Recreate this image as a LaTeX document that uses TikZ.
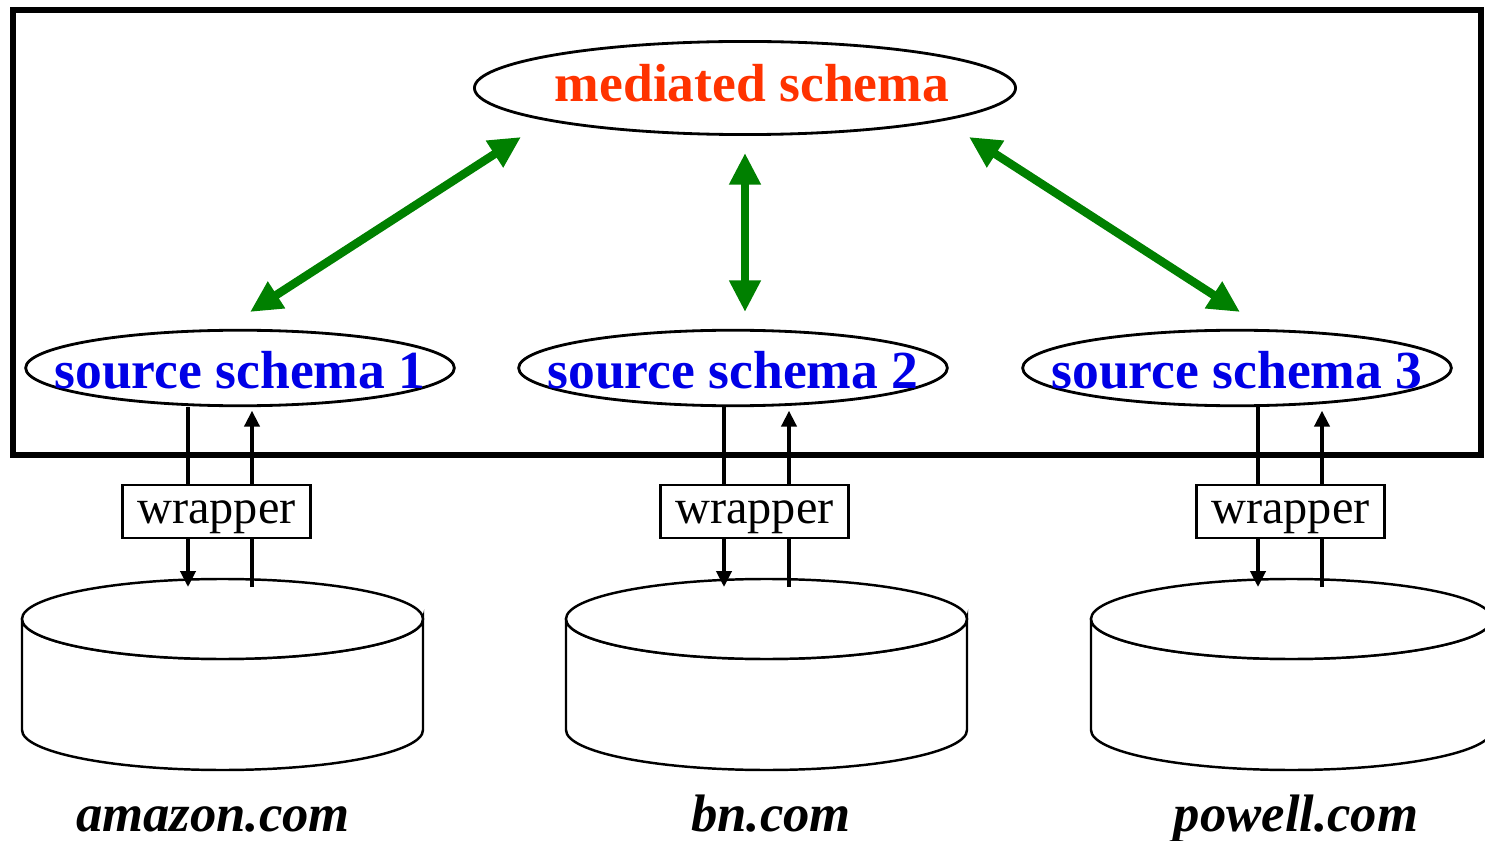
\documentclass[tikz,border=0pt]{standalone}
\usepackage{fontspec}
\setmainfont{Liberation Serif}
\usetikzlibrary{shapes.geometric,arrows.meta}
\definecolor{medred}{RGB}{255,51,0}
\definecolor{srcblue}{RGB}{0,0,230}
\definecolor{mapgreen}{RGB}{0,128,0}
\tikzset{
  schema/.style={draw,ellipse,line width=1.6pt,inner sep=0pt,fill=white},
  medtext/.style={anchor=base,inner sep=0pt,text=medred,
    font=\fontsize{30.5}{32}\selectfont\bfseries},
  srctext/.style={anchor=base,inner sep=0pt,text=srcblue,
    font=\fontsize{30.5}{32}\selectfont\bfseries},
  mapping/.style={draw=mapgreen,line width=4.8pt,
    {Triangle[length=18pt,width=17pt]}-{Triangle[length=18pt,width=17pt]}},
  flow/.style={draw,line width=2.1pt,-{Triangle[length=9pt,width=8.5pt]}},
  wrapbox/.style={draw,line width=1.3pt,fill=white,minimum width=107pt,minimum height=30pt,
    inner sep=0pt,text height=20pt,text depth=5.8pt,
    font=\fontsize{27.5}{29}\selectfont},
  drum/.style={draw,line width=1.4pt,fill=white},
  site/.style={anchor=base,font=\fontsize{30}{32}\selectfont\bfseries\itshape,inner sep=0pt}
}
\begin{document}
\begin{tikzpicture}[x=0.02cm,y=-0.02cm]
\useasboundingbox (0,0) rectangle (1485,841);
% mediator frame
\draw[line width=3.4pt] (13,10) rectangle (1481,455);

% schemas
\node[schema,minimum width=308pt,minimum height=53pt] (med) at (745,88) {};
\node[medtext] (medl) at (752,102) {mediated schema};
\node[schema,minimum width=244pt,minimum height=43pt] (s1) at (240,368) {};
\node[schema,minimum width=244pt,minimum height=43pt] (s2) at (733,368) {};
\node[schema,minimum width=244pt,minimum height=43pt] (s3) at (1237,368) {};
\node[srctext] (s1l) at (240,389) {source schema 1};
\node[srctext] (s2l) at (733,389) {source schema 2};
\node[srctext] (s3l) at (1237,389) {source schema 3};

% schema mappings
\coordinate (m1a) at (250,312); \coordinate (m1b) at (521,137);
\coordinate (m2a) at (745,312); \coordinate (m2b) at (745,153);
\coordinate (m3a) at (1240,312); \coordinate (m3b) at (969,137);
\draw[mapping] (m1a) -- (m1b);
\draw[mapping] (m2a) -- (m2b);
\draw[mapping] (m3a) -- (m3b);

% data sources
\foreach \cx/\n in {222.5/1,766.5/2,1291.5/3}{
  \path[drum] (\cx-200.5,619) -- (\cx-200.5,730)
    arc[start angle=180,end angle=360,x radius=200.5,y radius=-40]
    -- (\cx+200.5,619)
    arc[start angle=0,end angle=-180,x radius=200.5,y radius=-40] -- cycle;
  \draw[drum] (\cx,619) ellipse[x radius=200.5,y radius=40];
  \coordinate (db\n) at (\cx,579);
}

% query / answer lines through the wrappers
\coordinate (q1) at (188,587); \coordinate (a1) at (252,587);
\coordinate (q2) at (724,587); \coordinate (a2) at (789,587);
\coordinate (q3) at (1258,587); \coordinate (a3) at (1322,587);
\foreach \i in {1,2,3}{
  \draw[flow] (q\i |- s\i.south) -- (q\i);
  \draw[flow,shorten >=2pt] (a\i) -- (a\i |- s\i.south);
}

% wrappers
\node[wrapbox] (w1) at (216.5,511.5) {wrapper};
\node[wrapbox] (w2) at (754.5,511.5) {wrapper};
\node[wrapbox] (w3) at (1290.5,511.5) {wrapper};

% site names
\node[site] (n1) at (213,831) {amazon.com};
\node[site] (n2) at (771,831) {bn.com};
\node[site] (n3) at (1296,831) {powell.com};
\end{tikzpicture}
\end{document}
